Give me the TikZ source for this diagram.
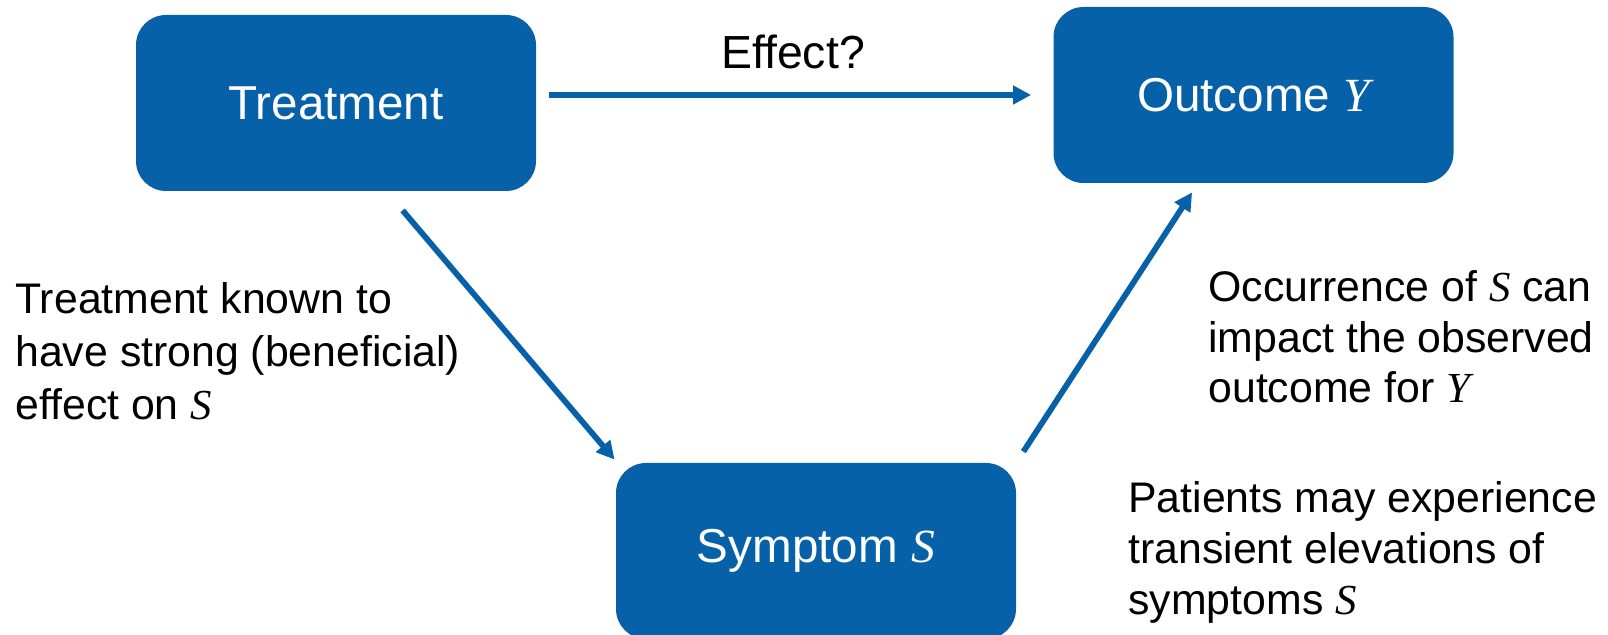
\documentclass[tikz,border=0pt]{standalone}
\usepackage{fontspec}
\setmainfont{Liberation Sans}
\newfontfamily\mathlike{Liberation Serif}
\usetikzlibrary{arrows.meta,calc}
\definecolor{boxblue}{RGB}{6,97,169}
\newcommand{\mv}[1]{{\mathlike\itshape #1}}
\tikzset{
  box/.style={fill=boxblue, draw=none, rounded corners=15pt, minimum width=200pt, minimum height=88pt, text=white, font=\fontsize{23.8}{28}\selectfont, inner sep=0pt},
  arr/.style={draw=boxblue, line width=2.9pt, -{Triangle[length=9pt,width=9pt]}},
  note/.style={align=left, anchor=base west, inner sep=0pt, font=\fontsize{21.4}{26.5}\selectfont}
}
\begin{document}
\begin{tikzpicture}[x=0.5pt,y=-0.5pt]
\useasboundingbox (0,0) rectangle (1608,635);
\node[box] (T) at (336,103) {Treatment};
\node[box] (O) at (1253.5,95) {Outcome \mv{Y}};
\node[box] (S) at (816,551) {Symptom \mv{S}};
\draw[arr, shorten <=6.5pt, shorten >=11pt] (T.east |- O.west) -- (O.west);
\node[anchor=base, inner sep=0pt, font=\fontsize{23.2}{27}\selectfont] (eff) at (793,69) {Effect?};
\draw[arr] ([shift={(267,19)}]T.south west) -- ([shift={(-1,-3)}]S.north west);
\draw[arr] ([shift={(7,-11)}]S.north east) -- ([shift={(139,9)}]O.south west);
\node[note] (n1) at (15,420) {Treatment known to\\have strong (beneficial)\\effect on \mv{S}};
\node[note, font=\fontsize{21.4}{25.3}\selectfont] (n2) at (1208,403) {Occurrence of \mv{S} can\\impact the observed\\outcome for \mv{Y}};
\node[note, font=\fontsize{21.4}{25.5}\selectfont] (n3) at (1128,615) {Patients may experience\\transient elevations of\\symptoms \mv{S}};
\end{tikzpicture}
\end{document}
